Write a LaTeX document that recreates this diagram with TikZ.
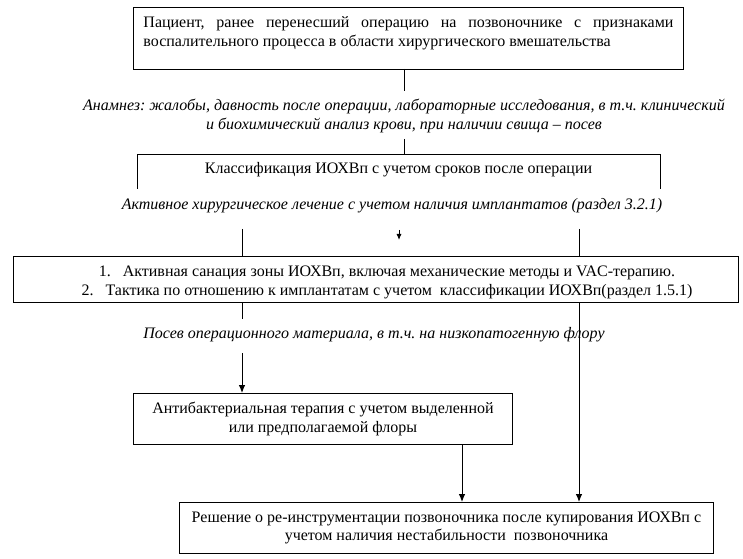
\documentclass[tikz,border=0pt]{standalone}
\usepackage{fontspec}
\setmainfont{Liberation Serif}
\usetikzlibrary{arrows.meta}
\frenchspacing
\begin{document}
\begin{tikzpicture}[x=1bp, y=-1bp, line width=0.9bp,
  font=\fontsize{16bp}{18.5bp}\selectfont,
  box/.style={draw, inner sep=0pt, anchor=north west},
  note/.style={font=\fontsize{16bp}{18.5bp}\selectfont\itshape, align=center, inner sep=0pt},
  arr/.style={-{Latex[length=8bp,width=6.5bp]}},
  smallarr/.style={-{Latex[length=6bp,width=5bp]}}]
\useasboundingbox (0,0) rectangle (743,559);

% box 1
\node[box, minimum width=550bp, minimum height=62bp] (b1) at (133,7) {};
\node[anchor=north west, text width=530bp, align=justify, inner sep=0pt] (t1) at (143,16.5)
  {Пациент, ранее перенесший операцию на позвоночнике с признаками\linebreak воспалительного процесса в области хирургического вмешательства};

% anamnesis note
\node[note] (n1) at (404,116) {Анамнез: жалобы, давность после операции, лабораторные исследования, в т.ч. клинический\\и биохимический анализ крови, при наличии свища – посев};
\coordinate (c1a) at (404,69);
\coordinate (c1b) at (404,91);
\coordinate (c1c) at (404,139);
\draw (c1a) -- (c1b);
\draw (c1c) -- (404,154);

% box 2 (open bottom)
\coordinate (b2sw) at (137,189);
\coordinate (b2nw) at (137,154);
\coordinate (b2ne) at (660,154);
\coordinate (b2se) at (660,189);
\draw (b2sw) -- (b2nw) -- (b2ne) -- (b2se);
\node (b2) at (398.5,170) {Классификация ИОХВп с учетом сроков после операции};

% active treatment note
\node[note] (n2) at (392,206) {Активное хирургическое лечение с учетом наличия имплантатов (раздел 3.2.1)};
\coordinate (sa1) at (399,230);
\coordinate (sa2) at (399,240);
\draw[smallarr] (sa1) -- (sa2);

% box 3
\node[box, minimum width=725bp, minimum height=46bp] (b3) at (13,256) {};
\node[inner sep=0pt, anchor=base] (t31) at (387,277) {1.\hspace{12bp}Активная санация зоны ИОХВп, включая механические методы и VAC-терапию.};
\node[inner sep=0pt, anchor=base] (t32) at (387,296) {2.\hspace{12bp}Тактика по отношению к имплантатам с учетом\ \ классификации ИОХВп(раздел 1.5.1)};
\coordinate (l1a) at (242,229);
\coordinate (l1b) at (242,256);
\coordinate (r1a) at (579,229);
\coordinate (r1b) at (579,256);
\draw (l1a) -- (l1b);
\draw (r1a) -- (r1b);

% sowing note
\node[note] (n3) at (374,335) {Посев операционного материала, в т.ч. на низкопатогенную флору};

% box 4
\node[box, minimum width=379bp, minimum height=51bp, align=center] (b4) at (133,393)
  {Антибактериальная терапия с учетом выделенной\\или предполагаемой флоры};

% box 5
\node[box, minimum width=534bp, minimum height=51bp, align=center] (b5) at (179,502)
  {Решение о ре-инструментации позвоночника после купирования ИОХВп с\\учетом наличия нестабильности\ \ позвоночника};

% connectors below box 3
\coordinate (l2a) at (242,302);
\coordinate (l2b) at (242,319);
\coordinate (l3a) at (242,353);
\coordinate (l3b) at (242,393);
\draw (l2a) -- (l2b);
\draw[arr] (l3a) -- (l3b);
\coordinate (r2a) at (579,302);
\coordinate (r2b) at (579,502);
\draw[arr] (r2a) -- (r2b);
\coordinate (m4a) at (462,444);
\coordinate (m4b) at (462,502);
\draw[arr] (m4a) -- (m4b);
\end{tikzpicture}
\end{document}
